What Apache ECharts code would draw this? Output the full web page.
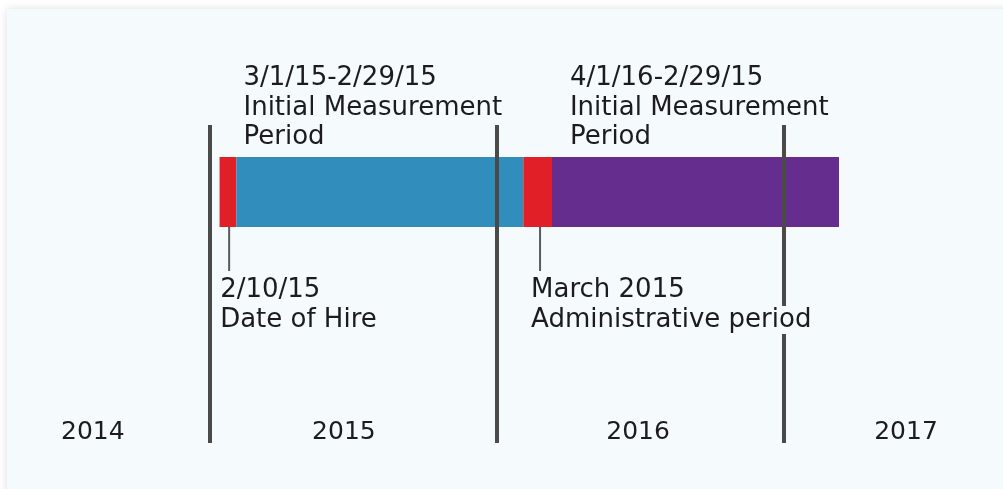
<!DOCTYPE html>
<html>
<head>
<meta charset="utf-8">
<script src="https://cdn.jsdelivr.net/npm/echarts@6/dist/echarts.min.js"></script>
<style>
  html, body { margin: 0; padding: 0; background: #fff; overflow: hidden; }
  #card {
    position: absolute; left: 7px; top: 9px; width: 1030px; height: 520px;
    background: #f5fafd; box-shadow: 0 0 9px rgba(0, 0, 0, 0.13);
  }
  #chart { position: absolute; left: 0; top: 0; width: 1003px; height: 489px; }
</style>
</head>
<body>
<div id="card"></div>
<div id="chart"></div>
<script>
// x values are months counted from Jan 2014
const years = ["2014", "2015", "2016", "2017"];
const yearLabelAt = [7.1, 17.6, 29.9, 41.1];
const yearBounds = [12, 24, 36];

const segStart = [12.4, 13.1, 25.1, 26.3];
const segEnd = [13.1, 25.1, 26.3, 38.3];
const segKind = ["admin", "first", "admin", "second"];

const periodLabels = [
  "3/1/15-2/29/15\nInitial Measurement\nPeriod",
  "4/1/16-2/29/15\nInitial Measurement\nPeriod",
];
const periodLabelAt = [13.4, 27.05];

const markerAt = [12.8, 25.8];
const markerTitles = ["2/10/15", "March 2015"];
const markerNotes = ["Date of Hire", "Administrative period"];

const colors = { admin: "#e11f27", first: "#318dbb", second: "#652d8e" };
const FONT = "DejaVu Sans";
const TEXT = "#1c1c1c";
const CARD = "#f5fafd";

const chart = echarts.init(document.getElementById("chart"));

// 时间段色块
function renderSeg(params, api) {
  const x0 = api.coord([api.value(0), 0])[0];
  const x1 = api.coord([api.value(1), 0])[0];
  return {
    type: "rect",
    shape: { x: x0, y: 157, width: x1 - x0, height: 70 },
    style: { fill: colors[segKind[params.dataIndex]] },
  };
}

// 引线 + 下方说明
function renderMarker(params, api) {
  const x = api.coord([api.value(0), 0])[0];
  const i = params.dataIndex;
  return {
    type: "group",
    children: [
      {
        type: "line",
        shape: { x1: x, y1: 227, x2: x, y2: 271 },
        style: { stroke: "#5a5a5a", lineWidth: 2 },
      },
      {
        type: "text",
        z2: 10,
        style: {
          x: x - 9,
          y: 275,
          text: "{a|" + markerTitles[i] + "}\n{b|" + markerNotes[i] + "}",
          verticalAlign: "top",
          rich: {
            a: { fontFamily: FONT, fontSize: 26, lineHeight: 30, fill: TEXT },
            b: {
              fontFamily: FONT, fontSize: 26, lineHeight: 30, fill: TEXT,
              backgroundColor: CARD, padding: [1, 0],
            },
          },
        },
      },
    ],
  };
}

// 上方时间段说明
function renderPeriodLabel(params, api) {
  const x = api.coord([api.value(0), 0])[0];
  return {
    type: "text",
    style: {
      x: x,
      y: 108,
      text: periodLabels[params.dataIndex],
      verticalAlign: "middle",
      fontFamily: FONT,
      fontSize: 26,
      lineHeight: 29.5,
      fill: TEXT,
    },
  };
}

chart.setOption({
  animation: false,
  grid: { left: 18.67, right: 27.67, top: 125, bottom: 46 },
  xAxis: {
    type: "value",
    min: 4,
    max: 44,
    axisLine: { show: false },
    axisTick: { show: false },
    splitLine: { show: false },
    axisLabel: {
      inside: true,
      margin: -2,
      customValues: yearLabelAt,
      formatter: (v) => years[yearLabelAt.indexOf(v)],
      fontFamily: FONT,
      fontSize: 25,
      color: TEXT,
    },
  },
  yAxis: { type: "value", min: 0, max: 1, show: false },
  series: [
    {
      type: "custom",
      name: "periods",
      z: 1,
      renderItem: renderSeg,
      data: segStart.map((s, i) => [s, segEnd[i]]),
    },
    {
      type: "line",
      name: "years",
      z: 2,
      data: [],
      markLine: {
        z: 2,
        silent: true,
        symbol: ["none", "none"],
        label: { show: false },
        lineStyle: { type: "solid", width: 4, color: "#4a4a4a" },
        data: yearBounds.map((v) => ({ xAxis: v })),
      },
    },
    {
      type: "custom",
      name: "markers",
      z: 6,
      renderItem: renderMarker,
      data: markerAt.map((v) => [v]),
    },
    {
      type: "custom",
      name: "periodLabels",
      z: 6,
      renderItem: renderPeriodLabel,
      data: periodLabelAt.map((v) => [v]),
    },
  ],
});
</script>
</body>
</html>
